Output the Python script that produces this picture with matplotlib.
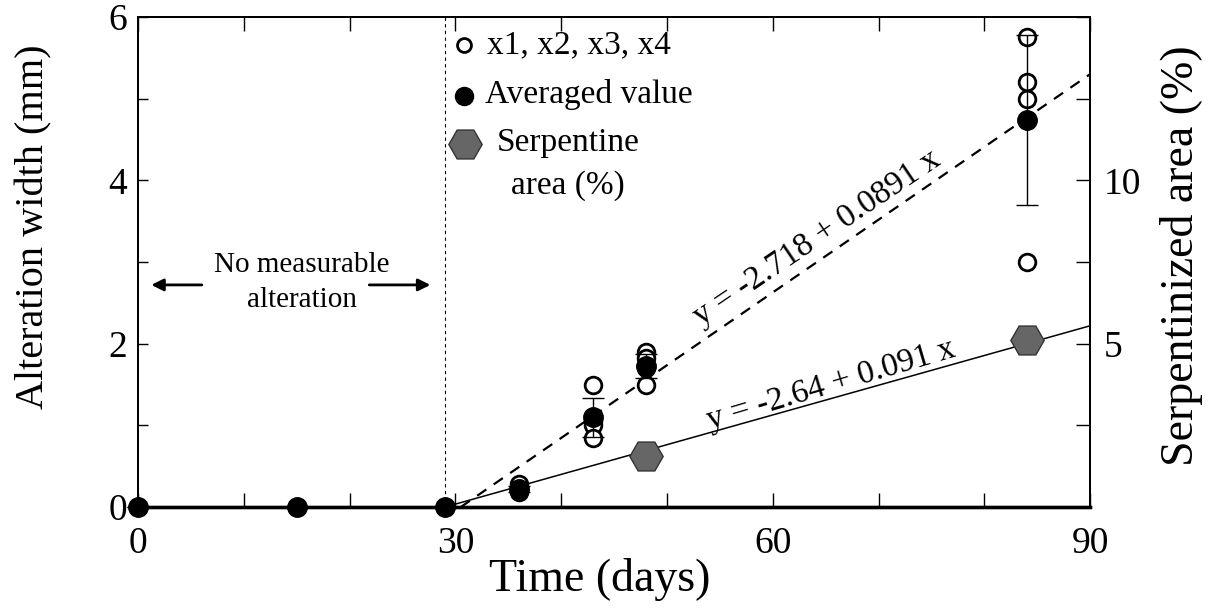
import numpy as np
import matplotlib
matplotlib.use('Agg')
import matplotlib.pyplot as plt
from matplotlib.ticker import MultipleLocator

plt.rcParams['font.family'] = ['Liberation Serif', 'DejaVu Serif']

# individual measurements (mm)
raw_days = [36, 36, 36, 36, 43, 43, 43, 43, 48, 48, 48, 48, 84, 84, 84, 84]
raw_width = [0.28, 0.22, 0.2, 0.18, 1.5, 1.05, 1.0, 0.85,
             1.9, 1.82, 1.7, 1.5, 5.75, 5.2, 5.0, 3.0]

# averaged values (mm)
avg_days = [0, 15, 29, 36, 43, 48, 84]
avg_width = [0, 0, 0, 0.22, 1.1, 1.73, 4.74]
avg_err = [0, 0, 0, 0.04, 0.24, 0.15, 1.04]

# serpentinized area (%)
serp_days = [48, 84]
serp_area = [1.55, 5.1]

# fits
fit_w = (-2.718, 0.0891)   # width (mm)
fit_a = (-2.64, 0.091)     # area (%)

fig = plt.figure(figsize=(12.1, 6.08), dpi=100)
ax = fig.add_axes([0.114, 0.166, 0.787, 0.806])
ax2 = ax.twinx()

ax.set_xlim(0, 90)
ax.set_ylim(0, 6)
ax2.set_ylim(0, 15)

# fit lines
xw = np.array([-fit_w[0] / fit_w[1], 90])
ax.plot(xw, fit_w[0] + fit_w[1] * xw, 'k--', lw=1.6, dashes=(5, 4))
xa = np.array([-fit_a[0] / fit_a[1], 90])
ax2.plot(xa, fit_a[0] + fit_a[1] * xa, 'k-', lw=1.1)

# dotted divider
ax.axvline(29, color='k', lw=0.8, ls=(0, (3, 3)))

# data
ax.plot(raw_days, raw_width, 'o', ms=12, mfc='white', mec='k', mew=2,
        clip_on=False, zorder=4)
ax.errorbar(avg_days, avg_width, yerr=avg_err, fmt='o', ms=14, color='k',
            ecolor='k', elinewidth=1, capsize=8, capthick=1,
            clip_on=False, zorder=5)
ax2.plot(serp_days, serp_area, 'H', ms=24, mfc='#666666', mec='#333333',
         mew=1, clip_on=False, zorder=5)

# annotations
ax.annotate('', xy=(1.0, 2.72), xytext=(6.3, 2.72),
            arrowprops=dict(arrowstyle='-|>', color='k', lw=2, mutation_scale=18))
ax.annotate('', xy=(27.9, 2.72), xytext=(21.6, 2.72),
            arrowprops=dict(arrowstyle='-|>', color='k', lw=2, mutation_scale=18))
ax.text(15.5, 2.96, 'No measurable', ha='center', va='center', fontsize=21)
ax.text(15.5, 2.53, 'alteration', ha='center', va='center', fontsize=21)

ax.text(64.2, 3.3, 'y = -2.718 + 0.0891 x', ha='center', va='center',
        fontsize=24, rotation=34, rotation_mode='anchor')
ax.text(65.5, 1.5, 'y = -2.64 + 0.091 x', ha='center', va='center',
        fontsize=24, rotation=16.5, rotation_mode='anchor')

# legend drawn by hand
ax.plot([30.8], [5.66], 'o', ms=10, mfc='white', mec='k', mew=2)
ax.text(33.0, 5.66, 'x1, x2, x3, x4', va='center', fontsize=24)
ax.plot([30.8], [5.03], 'o', ms=13, color='k')
ax.text(32.8, 5.05, 'Averaged value', va='center', fontsize=24)
ax.plot([30.9], [4.44], 'H', ms=24, mfc='#666666', mec='#333333', mew=1)
ax.text(33.9, 4.46, 'Serpentine', va='center', fontsize=24)
ax.text(35.3, 3.93, 'area (%)', va='center', fontsize=24)

# axes styling
ax.set_xlabel('Time (days)', fontsize=33, va='center')
ax.xaxis.set_label_coords(0.485, -0.148)
ax.set_ylabel('Alteration width (mm)', fontsize=29, va='center')
ax.yaxis.set_label_coords(-0.109, 0.573)
ax2.set_ylabel('Serpentinized area (%)', fontsize=33, va='center')
ax2.yaxis.set_label_coords(1.096, 0.512)

ax.xaxis.set_major_locator(MultipleLocator(30))
ax.xaxis.set_minor_locator(MultipleLocator(10))
ax.yaxis.set_major_locator(MultipleLocator(2))
ax.yaxis.set_minor_locator(MultipleLocator(1))
ax2.yaxis.set_major_locator(MultipleLocator(5))
ax2.yaxis.set_minor_locator(MultipleLocator(2.5))
ax2.set_yticks([5, 10])

ax.tick_params(axis='both', which='both', direction='in', labelsize=27,
               top=True, width=1)
ax.tick_params(axis='x', which='both', length=10, pad=14)
ax.tick_params(axis='y', which='both', length=7, pad=8)
ax.tick_params(axis='x', which='major', labeltop=False)
ax2.tick_params(axis='y', which='both', direction='in', length=10,
                labelsize=27, width=1, pad=10)

for a in (ax, ax2):
    for s in a.spines.values():
        s.set_linewidth(1.4)
    a.spines['bottom'].set_linewidth(2.4)

fig.savefig('out.png', dpi=100)
